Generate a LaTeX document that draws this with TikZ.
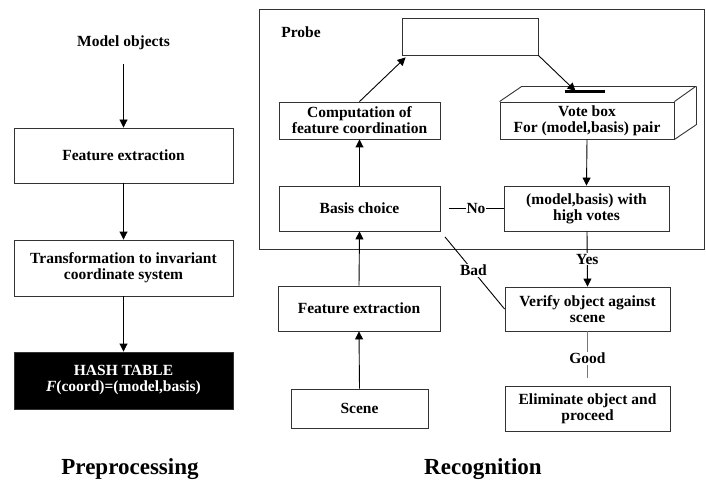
\documentclass[tikz,border=0pt]{standalone}
\usepackage{fontspec}
\setmainfont{Liberation Serif}
\usetikzlibrary{arrows.meta}
\definecolor{boxc}{HTML}{333333}
\definecolor{goodc}{HTML}{777777}
\newcommand\boxfont{\fontsize{15.5}{16}\selectfont\bfseries}
\newcommand\capfont{\fontsize{23}{25}\selectfont\bfseries}
\begin{document}
\begin{tikzpicture}[x=1pt,y=-1pt,
  box/.style={draw=boxc, line width=0.9pt, align=center, inner sep=0pt, font=\boxfont},
  arr/.style={-{Triangle[length=8pt,width=8pt]}, line width=0.9pt},
  conn/.style={line width=0.9pt},
  lab/.style={fill=white, inner sep=1pt, font=\boxfont},
  plain/.style={inner sep=0pt, font=\boxfont}]
\useasboundingbox (0,0) rectangle (706,481);

% ---------- Preprocessing ----------
\node[plain] (mo) at (123.5,43) {Model objects};
\node[box, minimum width=219pt, minimum height=55pt] (fe1) at (123.5,155.5) {Feature extraction};
\node[box, minimum width=219pt, minimum height=56pt] (tr) at (123.5,268) {Transformation to invariant\\coordinate system};
\node[box, fill=black, text=white, minimum width=219pt, minimum height=57pt] (hash) at (123.5,380.5) {HASH TABLE\\\textit{F}(coord)=(model,basis)};
\node[inner sep=0pt, font=\capfont] (pre) at (130,469) {Preprocessing};

\draw[arr] ([yshift=-14pt]mo.south) -- (fe1.north);
\draw[arr] (fe1.south) -- (tr.north);
\draw[arr] (tr.south) -- (hash.north);

% ---------- Recognition ----------
\draw[draw=boxc, line width=0.9pt] (259,9) rectangle (704.5,249);
\node[plain] (probe) at (301,32) {Probe};

\node[box, minimum width=136pt, minimum height=37pt] (top) at (470,36.5) {};
\node[box, minimum width=161pt, minimum height=37pt] (comp) at (359.5,120.5) {Computation of\\feature coordination};
\node[box, minimum width=174pt, minimum height=37pt] (vote) at (587,120.5) {Vote box\\For (model,basis) pair};
\draw[draw=boxc, line width=0.9pt] (vote.north west) -- ++(22,-15) -- ++(174,0) -- (vote.north east);
\draw[draw=boxc, line width=0.9pt] ([shift={(22,-15)}]vote.north east) -- ++(0,38) -- (vote.south east);
\coordinate (slot) at (584.5,92);
\draw[line width=3pt] ([xshift=-20pt]slot) -- ([xshift=20pt]slot);

\node[box, minimum width=161pt, minimum height=45pt] (basis) at (359.5,208.5) {Basis choice};
\node[box, minimum width=165pt, minimum height=45pt] (mb) at (586.5,208.5) {(model,basis) with\\high votes};
\node[box, minimum width=162pt, minimum height=45pt] (fe2) at (359,308.5) {Feature extraction};
\node[box, minimum width=137pt, minimum height=39pt] (scene) at (359.5,408.5) {Scene};
\node[box, minimum width=165pt, minimum height=44pt] (ver) at (587.5,309) {Verify object against\\scene};
\node[box, minimum width=165pt, minimum height=45pt] (elim) at (587.5,408.5) {Eliminate object and\\proceed};
\node[inner sep=0pt, font=\capfont] (rec) at (483,469) {Recognition};

\draw[arr] (comp.north) -- ([xshift=4pt,yshift=-2pt]top.south west);
\draw[arr] (top.south east) -- ([xshift=-9pt,yshift=1pt]slot);
\draw[arr] (vote.south) -- (mb.north);
\draw[arr] (basis.north) -- (comp.south);
\draw[arr] (fe2.north) -- (basis.south);
\draw[arr] (scene.north) -- (fe2.south);
\draw[conn, shorten <=9pt] (basis.east) -- (mb.west) node[lab, midway, xshift=4pt] {No};
\draw[conn, shorten <=7pt] (basis.south east) -- (ver.west) node[lab, midway, xshift=1pt] {Bad};
\draw[arr] ([xshift=0.5pt]mb.south) -- (ver.north) node[lab, midway] {Yes};
\draw[conn, draw=goodc, line width=1.2pt, shorten >=8pt] (ver.south) -- (elim.north) node[lab, midway, text=black] {Good};
\end{tikzpicture}
\end{document}
